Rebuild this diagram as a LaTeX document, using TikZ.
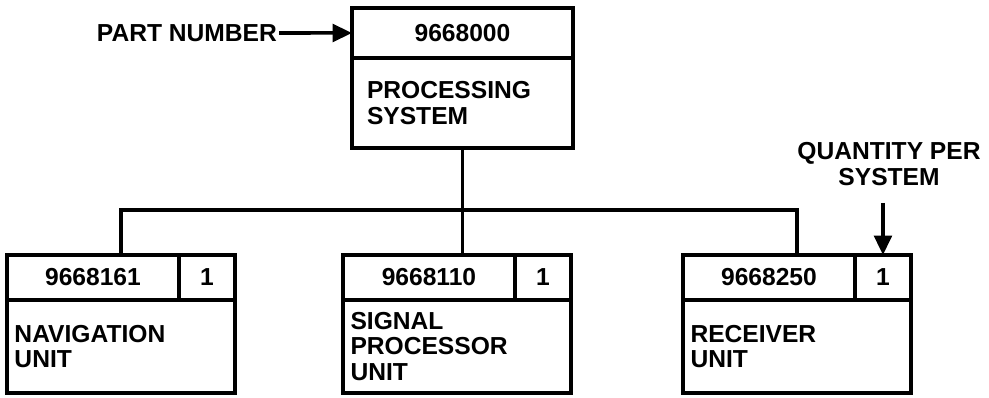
\documentclass[tikz,border=0pt]{standalone}
\usepackage{fontspec}
\setsansfont{Liberation Sans}
\usetikzlibrary{arrows.meta}

\begin{document}
\begin{tikzpicture}[
		x=0.02cm, y=-0.02cm,
		txt/.style={font=\sffamily\bfseries\fontsize{14}{14.6}\selectfont},
		cell/.style={txt, draw, line width=2pt, anchor=north west, inner sep=0pt, outer sep=0pt},
		numcell/.style={cell, minimum width=3.44cm, minimum height=0.9cm},
		qtycell/.style={cell, minimum width=1.12cm, minimum height=0.9cm},
		namecell/.style={cell, text width=4.26cm, inner xsep=0.15cm, minimum height=1.86cm, align=left},
		link/.style={line width=2pt},
		pointer/.style={line width=2pt, -{Triangle[length=11pt, width=10pt]}}
		]
		\useasboundingbox (0,0) rectangle (989,398);
		
		% Top level assembly
		\node[cell, minimum width=4.42cm, minimum height=1.0cm] (sysnum) at (352,8) {9668000};
		\node[cell, text width=3.82cm, inner xsep=0.3cm, minimum height=1.8cm, align=left]
			(sys) at (352,58) {PROCESSING\\SYSTEM};
		
		% Part number callout
		\node[txt, anchor=east, inner sep=1pt] (partlbl) at (279,33) {PART NUMBER};
		\draw[pointer] (partlbl) -- (sysnum);
		
		% Sub-assemblies
		\foreach \nm/\x/\num/\label in {nav/7/9668161/{NAVIGATION\\UNIT},
			sig/343/9668110/{SIGNAL\\PROCESSOR\\UNIT},
			rcv/683/9668250/{RECEIVER\\UNIT}} {
			\node[numcell] (\nm-num) at (\x,255) {\num};
			\node[qtycell] (\nm-qty) at (\nm-num.north east) {1};
			\node[namecell] (\nm) at (\nm-num.south west) {\label};
		}
		
		% Tree connectors
		\coordinate (bus) at (sys.south |- 0,210);
		\draw[link] (sys.south) -- (bus);
		\draw[link] (nav-num.north west -| nav.north) |- (bus) -| (rcv-num.north west -| rcv.north);
		\draw[link] (bus) -- (sig-num.north west -| bus);
		
		% Quantity callout
		\node[txt, align=center, inner sep=1pt] (qtylbl) at (889,164) {QUANTITY PER\\SYSTEM};
		\coordinate (qtytop) at (rcv-qty.north |- 0,203);
		\draw[pointer] (qtytop) -- (rcv-qty.north);
		
	\end{tikzpicture}
\end{document}
